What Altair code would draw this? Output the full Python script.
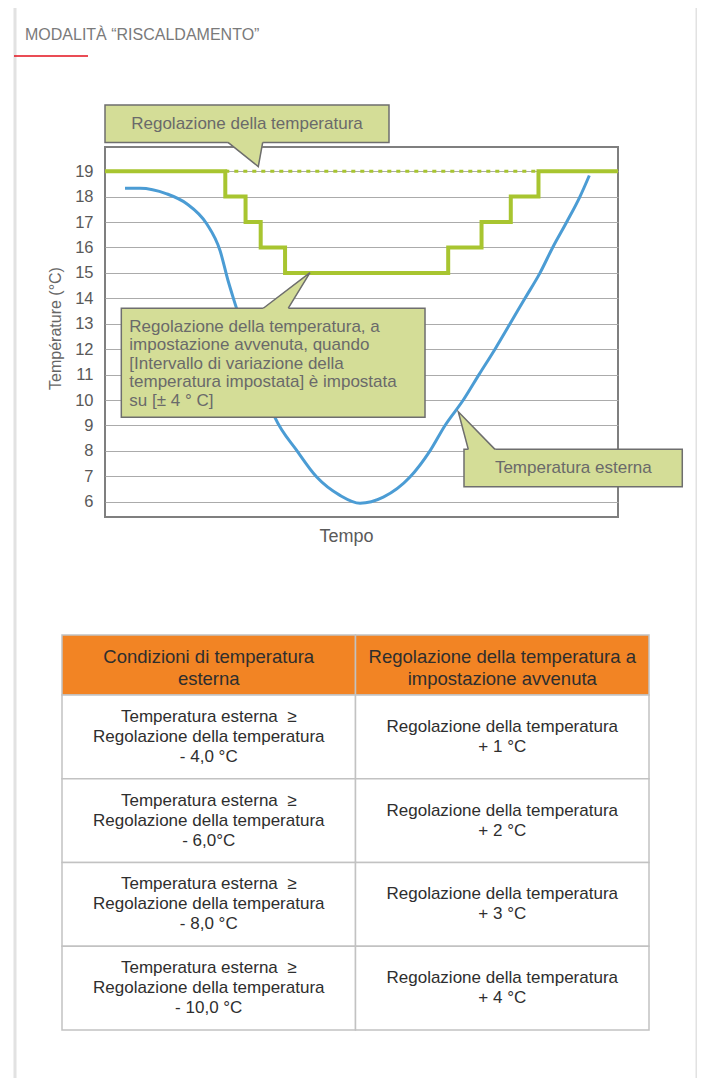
import altair as alt
import pandas as pd

FONT = "Liberation Sans"

# ---------------- data ----------------
y_ticks = [6, 7, 8, 9, 10, 11, 12, 13, 14, 15, 16, 17, 18, 19]

# temperature set-point (green step line): time of each change and new value
set_time = [0, 23.45, 27.4, 30.35, 35.1, 66.9, 73.4, 79.1, 84.5, 100]
set_temp = [19, 18, 17, 16, 15, 16, 17, 18, 19, 19]

# original set-point while the automatic change is active (dashed)
orig_time = [23.45, 84.5]
orig_temp = [19, 19]

# outside temperature (blue curve)
out_time = [3.9, 6.82, 12.03, 15.93, 19.82, 22.42, 23.98, 25.15, 29.24, 33.14,
            37.37, 41.27, 45.81, 49.71, 54.25, 59.45, 63.35, 66.28, 69.84, 72.90,
            76.02, 78.95, 81.87, 84.80, 87.27, 90.00, 92.59, 94.41]
out_temp = [18.33, 18.33, 18.11, 17.72, 16.93, 15.88, 14.7, 13.92, 11.5, 9.31,
            8.02, 6.97, 6.25, 5.94, 6.18, 6.97, 8.0, 9.0, 10.0, 11.0,
            12.0, 13.0, 14.0, 15.0, 16.0, 17.0, 18.0, 18.83]

callout_labels = [
    ["Regolazione della temperatura"],
    ["Regolazione della temperatura, a",
     "impostazione avvenuta, quando",
     "[Intervallo di variazione della",
     "temperatura impostata] è impostata",
     "su [± 4 ° C]"],
    ["Temperatura esterna"],
]

table_header = [
    ["Condizioni di temperatura", "esterna"],
    ["Regolazione della temperatura a", "impostazione avvenuta"],
]
table_condition = [
    ["Temperatura esterna\u00a0 ≥", "Regolazione della temperatura", "- 4,0 °C"],
    ["Temperatura esterna\u00a0 ≥", "Regolazione della temperatura", "- 6,0°C"],
    ["Temperatura esterna\u00a0 ≥", "Regolazione della temperatura", "- 8,0 °C"],
    ["Temperatura esterna\u00a0 ≥", "Regolazione della temperatura", "- 10,0 °C"],
]
table_setting = [
    ["Regolazione della temperatura", "+ 1 °C"],
    ["Regolazione della temperatura", "+ 2 °C"],
    ["Regolazione della temperatura", "+ 3 °C"],
    ["Regolazione della temperatura", "+ 4 °C"],
]

title_text = "MODALITÀ “RISCALDAMENTO”"

# ---------------- styles ----------------
GREEN = "#a8c530"
BLUE = "#4b9cd4"
CALL_FILL = "#d4dd97"
CALL_STROKE = "#6e6e6e"
CALL_TEXT = "#6a6a6a"
GRID = "#ababab"
ORANGE = "#f28424"
TABLE_LINE = "#c2c2c2"

# ---------------- plot scales / axes ----------------
xs = alt.Scale(domain=[0, 100], nice=False, zero=False)
ys = alt.Scale(domain=[5.4, 19.95], nice=False, zero=False)

xaxis = alt.Axis(title="Tempo", labels=False, ticks=False, domain=False, grid=False,
                 titleFont=FONT, titleFontSize=18, titleColor="#5a5a5a",
                 titleFontWeight="normal", titleX=241, titleY=19,
                 titleBaseline="middle", titleAlign="center")
yaxis = alt.Axis(values=y_ticks, title="Température (°C)", grid=True, gridColor=GRID,
                 gridWidth=1, ticks=False, domain=False,
                 labelFont=FONT, labelFontSize=16.5, labelColor="#595959", labelPadding=12,
                 titleFont=FONT, titleFontSize=16, titleColor="#666666",
                 titleFontWeight="normal", titleAngle=270, titleX=-50, titleY=181,
                 titleBaseline="middle", titleAlign="center")

X = alt.X("t:Q", scale=xs, axis=xaxis)
Y = alt.Y("v:Q", scale=ys, axis=yaxis)

set_df = pd.DataFrame({"t": set_time, "v": set_temp})
orig_df = pd.DataFrame({"t": orig_time, "v": orig_temp})
out_df = pd.DataFrame({"t": out_time, "v": out_temp})

step_line = alt.Chart(set_df).mark_line(
    color=GREEN, strokeWidth=4, interpolate="step-after", strokeJoin="miter"
).encode(x=X, y=Y)

dash_line = alt.Chart(orig_df).mark_line(
    color=GREEN, strokeWidth=3, strokeDash=[4, 5]
).encode(x=X, y=Y)

blue_line = alt.Chart(out_df).mark_line(
    color=BLUE, strokeWidth=3, interpolate="monotone"
).encode(x=X, y=Y)

# callout geometry (annotation, in time / temperature units)
boxes = pd.DataFrame({
    "t": [0.0, 3.18, 69.98], "t2": [55.36, 62.38, 112.53],
    "v": [20.13, 9.32, 6.59], "v2": [21.60, 13.61, 8.06],
})
pointers = [
    # tip t, tip v, base left t, base right t, base v, inside-box v
    (29.88, 19.18, 23.98, 30.74, 20.13, 20.22),
    (39.96, 15.01, 30.86, 35.73, 13.61, 13.52),
    (68.87, 9.54, 70.82, 76.02, 8.06, 7.97),
]
poly_rows, edge_rows = [], []
for i, (tt, tv, bl, br, bv, ev) in enumerate(pointers):
    poly_rows += [
        {"id": i, "o": 0, "t": bl + 0.15, "v": ev},
        {"id": i, "o": 1, "t": bl, "v": bv},
        {"id": i, "o": 2, "t": tt, "v": tv},
        {"id": i, "o": 3, "t": br, "v": bv},
        {"id": i, "o": 4, "t": br - 0.15, "v": ev},
    ]
    edge_rows += [
        {"id": i, "o": 0, "t": bl, "v": bv},
        {"id": i, "o": 1, "t": tt, "v": tv},
        {"id": i, "o": 2, "t": br, "v": bv},
    ]

box_layer = alt.Chart(boxes).mark_rect(
    fill=CALL_FILL, stroke=CALL_STROKE, strokeWidth=1.5
).encode(x=X, x2=alt.X2("t2"), y=Y, y2=alt.Y2("v2"))

ptr_fill = alt.Chart(pd.DataFrame(poly_rows)).mark_line(
    fill=CALL_FILL, stroke=CALL_FILL, strokeWidth=0.5, fillOpacity=1
).encode(x=X, y=Y, detail="id:N", order="o:Q")

ptr_edge = alt.Chart(pd.DataFrame(edge_rows)).mark_line(
    color=CALL_STROKE, strokeWidth=1.5
).encode(x=X, y=Y, detail="id:N", order="o:Q")

call_text_c = alt.Chart(alt.Data(values=[
    {"t": 27.68, "v": 20.86, "lbl": callout_labels[0]},
    {"t": 91.29, "v": 7.32, "lbl": callout_labels[2]},
])).mark_text(font=FONT, fontSize=17, color=CALL_TEXT, align="center",
              baseline="middle").encode(x=X, y=Y, text="lbl:N")

# multi-line text: y is the centre of the first line
call_text_l = alt.Chart(alt.Data(values=[
    {"t": 4.74, "v": 12.88, "lbl": callout_labels[1]},
])).mark_text(font=FONT, fontSize=17, color=CALL_TEXT, align="left",
              baseline="middle", lineHeight=18.5).encode(x=X, y=Y, text="lbl:N")

plot = alt.layer(step_line, dash_line, blue_line, box_layer, ptr_fill, ptr_edge,
                 call_text_c, call_text_l)

# ---------------- table ----------------
ROW_PX = 83.75
HEADER_H = 60 / ROW_PX
tx = alt.Scale(domain=[0, 2], range=[-43, 544], nice=False, zero=False)
ty = alt.Scale(domain=[0, 4], range=[548, 883], nice=False, zero=False)

head_cells, body_cells, head_txt, body_txt = [], [], [], []
for c in range(2):
    lines = table_header[c]
    head_cells.append({"c0": c, "c1": c + 1, "r0": -HEADER_H, "r1": 0})
    first = -HEADER_H / 2 + (3 - (len(lines) - 1) * 22 / 2) / ROW_PX
    head_txt.append({"cx": c + 0.5, "cy": first, "lbl": lines})
for r in range(4):
    for c, col in enumerate([table_condition, table_setting]):
        lines = col[r]
        body_cells.append({"c0": c, "c1": c + 1, "r0": r, "r1": r + 1})
        first = r + 0.5 - (len(lines) - 1) * 20 / 2 / ROW_PX
        body_txt.append({"cx": c + 0.5, "cy": first, "lbl": lines})

TX = alt.X("c0:Q", scale=tx, axis=None)
TY = alt.Y("r0:Q", scale=ty, axis=None)

head_rect = alt.Chart(alt.Data(values=head_cells)).mark_rect(
    fill=ORANGE, stroke=TABLE_LINE, strokeWidth=1.5
).encode(x=TX, x2=alt.X2("c1"), y=TY, y2=alt.Y2("r1"))
body_rect = alt.Chart(alt.Data(values=body_cells)).mark_rect(
    fill="white", stroke=TABLE_LINE, strokeWidth=1.5
).encode(x=TX, x2=alt.X2("c1"), y=TY, y2=alt.Y2("r1"))

head_text = alt.Chart(alt.Data(values=head_txt)).mark_text(
    font=FONT, fontSize=18.5, color="#2e2e2e", align="center", baseline="middle",
    lineHeight=22
).encode(x=alt.X("cx:Q", scale=tx, axis=None), y=alt.Y("cy:Q", scale=ty, axis=None),
         text="lbl:N")
body_text = alt.Chart(alt.Data(values=body_txt)).mark_text(
    font=FONT, fontSize=17, color="#2e2e2e", align="center", baseline="middle",
    lineHeight=20
).encode(x=alt.X("cx:Q", scale=tx, axis=None), y=alt.Y("cy:Q", scale=ty, axis=None),
         text="lbl:N")

table = alt.layer(head_rect, body_rect, head_text, body_text)

# ---------------- page decoration ----------------
one = pd.DataFrame({"k": [0]})
frame = alt.Chart(one).mark_rect(fillOpacity=0, stroke="#e2e2e2", strokeWidth=3).encode(
    x=alt.value(-90), x2=alt.value(592), y=alt.value(-141), y2=alt.value(1000))
underline = alt.Chart(one).mark_rule(color="#e3101c", strokeWidth=1.5).encode(
    x=alt.value(-91), x2=alt.value(-17), y=alt.value(-91))
title = alt.Chart(one).mark_text(
    font=FONT, fontSize=16, color="#7a7a7a", align="left", baseline="middle"
).encode(x=alt.value(-80), y=alt.value(-112), text=alt.value(title_text))

deco = alt.layer(frame, underline, title)

chart = alt.layer(plot, table, deco).resolve_scale(
    x="independent", y="independent"
).properties(
    width=513, height=370,
    autosize=alt.AutoSizeParams(type="none"),
    padding={"left": 97, "top": 139, "right": 79, "bottom": 561},
    background="white",
).configure_view(stroke="#7f7f7f", strokeWidth=2)

chart.save("out.html", embed_options={"renderer": "svg", "actions": False})
